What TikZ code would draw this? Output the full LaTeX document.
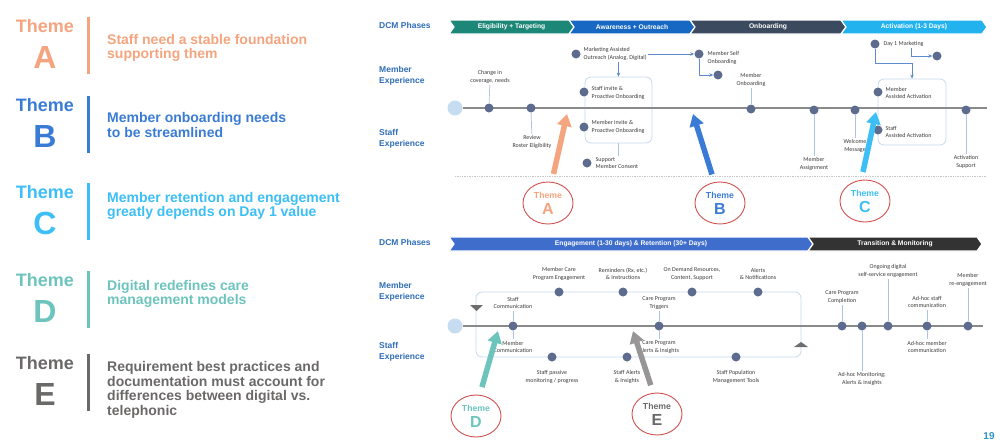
\documentclass[tikz,border=0pt]{standalone}
\usepackage{fontspec}
\setmainfont{Liberation Sans}
\newfontfamily\lblfam{Carlito}
\usetikzlibrary{arrows.meta,shapes.geometric}

\definecolor{thA}{HTML}{F4A47E}
\definecolor{thB}{HTML}{3A7BD5}
\definecolor{thC}{HTML}{3CBEF6}
\definecolor{thD}{HTML}{6CC4BD}
\definecolor{thE}{HTML}{6B6868}
\definecolor{ringc}{HTML}{D0504C}
\definecolor{dotc}{HTML}{5D6B8E}
\definecolor{linec}{HTML}{8A8A8A}
\definecolor{stemc}{HTML}{A9C4E4}
\definecolor{flowc}{HTML}{5F8BCB}
\definecolor{boxc}{HTML}{C3D8EF}
\definecolor{startc}{HTML}{C6DDF1}
\definecolor{labc}{HTML}{3A3A3A}
\definecolor{headc}{HTML}{2F6DB8}
\definecolor{phA}{HTML}{1C8677}
\definecolor{phB}{HTML}{1768C2}
\definecolor{phC}{HTML}{3C4A5F}
\definecolor{phD}{HTML}{22B2EE}
\definecolor{phE}{HTML}{3E6DCB}
\definecolor{phF}{HTML}{333333}
\definecolor{trimc}{HTML}{6E6E6E}
\definecolor{pagec}{HTML}{2B93C6}

\newcommand\lblfont{\lblfam\fontsize{6}{7.5}\selectfont}
% chevron: x start, x end, y top, colour, text
\newcommand\chev[5]{%
  \filldraw[fill=#4, draw=white, line width=1.2pt] (#1,#3) -- (#2,#3) -- (#2+5,#3+7) -- (#2,#3+14) -- (#1,#3+14) -- (#1+5,#3+7) -- cycle;
  \node[phase] at ({(#1+#2)/2+2.5},#3+7) {#5};}
% text of a theme ring
\newcommand\ringtext[1]{\fontsize{8.7}{9}\selectfont Theme\\[4pt]\fontsize{16}{16}\selectfont #1}

\begin{document}
\begin{tikzpicture}[x=1pt,y=-1pt,
  dot/.style={circle, fill=dotc, inner sep=0, minimum size=9pt},
  startdot/.style={circle, fill=startc, inner sep=0, minimum size=15pt},
  lbl/.style={font=\lblfont, text=labc, align=center, inner sep=1.5pt},
  lbll/.style={lbl, align=left, anchor=west},
  stem/.style={draw=stemc, line width=0.7pt},
  flow/.style={draw=flowc, line width=0.7pt, -{Stealth[length=4pt,width=3.5pt]}},
  grp/.style={draw=boxc, line width=0.8pt, rounded corners=6pt, inner sep=0},
  timeline/.style={draw=linec, line width=2pt},
  ring/.style={ellipse, draw=ringc, line width=0.9pt, minimum width=50pt, minimum height=42pt, inner sep=0, align=center, font=\bfseries},
  themearrow/.style={line width=5.5pt, -{Triangle[width=14pt,length=12pt]}, shorten <=8pt},
  head/.style={font=\bfseries\fontsize{8.5}{11.5}\selectfont, text=headc, align=left, anchor=west, inner sep=0},
  phase/.style={font=\bfseries\fontsize{6.7}{7}\selectfont, text=white, inner sep=0},
  thword/.style={font=\bfseries\fontsize{18}{20}\selectfont, inner sep=0},
  thletter/.style={font=\bfseries\fontsize{32}{34}\selectfont, inner sep=0},
  thtext/.style={font=\bfseries\fontsize{14}{14.5}\selectfont, align=left, anchor=west, inner sep=0}]
\useasboundingbox (0,0) rectangle (1000,445);

% themes on the left
\foreach \l/\y/\dy/\txt in {
  A/26/22/{Staff need a stable foundation\\supporting them},
  B/105/20/{Member onboarding needs\\to be streamlined},
  C/192/14/{Member retention and engagement\\greatly depends on Day 1 value},
  D/280/14/{Digital redefines care\\management models},
  E/363/27/{Requirement best practices and\\documentation must account for\\differences between digital vs.\\telephonic}}
{
  \node[thword, text=th\l] (tw\l) at (45,\y) {Theme};
  \node[thletter, text=th\l] (tl\l) at (45,\y+31) {\l};
  \draw[line width=3pt, th\l] (88,\y-9) -- (88,\y+48);
  \node[thtext, text=th\l] (tt\l) at (107,\y+\dy) {\txt};
}

% upper journey
\node[head] (ph1) at (379,25) {DCM Phases};
\node[head] (me1) at (379,76) {Member\\Experience};
\node[head] (se1) at (379,139) {Staff\\Experience};
\chev{449}{569}{20}{phA}{Eligibility + Targeting}
\chev{569}{690}{20}{phB}{Awareness + Outreach}
\chev{690}{841}{20}{phC}{Onboarding}
\chev{841}{982}{20}{phD}{Activation (1-3 Days)}

\node[grp, minimum width=67pt, minimum height=66pt] (box1) at (618.5,110) {};
\node[grp, minimum width=68pt, minimum height=66pt] (box2) at (912,112) {};

\node[startdot] (s1) at (455,108) {};
\coordinate (e1) at (987,108);
\draw[timeline] (s1) -- (e1);

\node[dot] (cov) at (489,108) {};
\node[lbl] (covl) at (490,77) {Change in\\coverage, needs};
\draw[stem] (covl) -- (cov);
\node[dot] (ros) at (531,108) {};
\node[lbl] (rosl) at (532,142) {Review\\Roster Eligibility};
\draw[stem] (ros) -- (rosl);

\node[dot] (mkt) at (576,54) {};
\node[lbll] (mktl) at (582,54) {Marketing Assisted\\Outreach (Analog, Digital)};
\draw[flow] (mktl.south -| box1.north) -- (box1.north);
\node[dot] (si) at (584,92) {};
\node[lbll] (sil) at (590,93) {Staff invite \&\\Proactive Onboarding};
\node[dot] (mi) at (584,127) {};
\node[lbll] (mil) at (590,127) {Member invite \&\\Proactive Onboarding};
\node[dot] (con) at (587,163) {};
\node[lbll] (conl) at (594,163) {Support\\Member Consent};
\draw[stem] (box1.south) -- (box1.south |- conl.north);

\node[dot] (mso) at (699,54) {};
\node[lbll] (msol) at (706,58) {Member Self\\Onboarding};
\draw[flow] (mktl.east |- mso) -- (mso);
\node[dot] (mso2) at (718,75) {};
\draw[flow] (mso.south) |- (mso2.west);
\node[dot] (mo) at (751,109) {};
\node[lbl] (mol) at (751,80) {Member\\Onboarding};
\draw[stem] (mol) -- (mo);
\node[dot] (asg) at (814,110) {};
\node[lbl] (asgl) at (814,164) {Member\\Assignment};
\draw[stem] (asg) -- (asgl);
\node[dot] (wel) at (855,110) {};
\node[lbl] (well) at (855,146) {Welcome\\Message};
\draw[stem] (wel) -- (well);

\node[dot] (d1) at (875,44) {};
\node[lbll] (d1l) at (882,44) {Day 1 Marketing};
\coordinate (d1k) at (912,63);
\draw[flow] (d1.south) |- (d1k) -- (box2.north);
\node[dot] (d1b) at (937,56) {};
\draw[flow] ([xshift=8pt]d1l.south) |- (d1b.west);
\node[dot] (maa) at (878,92) {};
\node[lbll] (maal) at (884,93) {Member\\Assisted Activation};
\node[dot] (saa) at (878,130) {};
\node[lbll] (saal) at (884,132) {Staff\\Assisted Activation};
\node[dot] (act) at (966,110) {};
\node[lbl] (actl) at (966,162) {Activation\\Support};
\draw[stem] (act) -- (actl);

\draw[densely dotted, gray!45, line width=0.7pt] (455,176) -- (987,176);

% lower journey
\node[head] (ph2) at (379,242) {DCM Phases};
\node[head] (me2) at (379,292) {Member\\Experience};
\node[head] (se2) at (379,352) {Staff\\Experience};
\chev{449}{808}{237}{phE}{Engagement (1-30 days) \& Retention (30+ Days)}
\chev{808}{977}{237}{phF}{Transition \& Monitoring}

\node[grp, minimum width=325pt, minimum height=65pt] (loop) at (638.5,324.5) {};
\fill[trimc] (470,305) -- (483,305) -- (476.5,311) -- cycle;
\fill[trimc] (794,347) -- (808,347) -- (801,342) -- cycle;

\node[startdot] (s2) at (455,326) {};
\coordinate (e2) at (983,326);
\draw[timeline] (s2) -- (e2);

\node[dot] (mce) at (559,292) {};
\node[lbl] (mcel) at (559,274) {Member Care\\Program Engagement};
\node[dot] (rem) at (623,292) {};
\node[lbl] (reml) at (623,274) {Reminders (Rx, etc.)\\\& Instructions};
\node[dot] (odr) at (692,292) {};
\node[lbl] (odrl) at (692,274) {On Demand Resources,\\Content, Support};
\node[dot] (aln) at (758,292) {};
\node[lbl] (alnl) at (758,274) {Alerts\\\& Notifications};

\node[dot] (sc) at (513,326) {};
\node[lbl] (scl) at (513,303) {Staff\\Communication};
\node[lbl] (mcl) at (513,347) {Member\\Communication};
\draw[stem] (scl) -- (sc) -- (mcl);
\node[dot] (cpt) at (659,326) {};
\node[lbl] (cptl) at (659,303) {Care Program\\Triggers};
\node[lbl] (cpal) at (659,347) {Care Program\\Alerts \& Insights};
\draw[stem] (cptl) -- (cpt) -- (cpal);

\node[dot] (spm) at (552,357) {};
\node[lbl] (spml) at (552,377) {Staff passive\\monitoring / progress};
\node[dot] (sai) at (627,357) {};
\node[lbl] (sail) at (627,377) {Staff Alerts\\\& Insights};
\node[dot] (spt) at (736,357) {};
\node[lbl] (sptl) at (736,377) {Staff Population\\Management Tools};

\node[dot] (cpc) at (842,326) {};
\node[lbl] (cpcl) at (842,297) {Care Program\\Completion};
\draw[stem] (cpcl) -- (cpc);
\node[dot] (adm) at (862,326) {};
\node[lbl] (adml) at (862,379) {Ad-hoc Monitoring;\\Alerts \& insights};
\draw[stem] (adm) -- (adml);
\node[dot] (ong) at (888,326) {};
\node[lbl] (ongl) at (888,271) {Ongoing digital\\self-service engagement};
\draw[stem] (ongl) -- (ong);
\node[dot] (ahs) at (927,326) {};
\node[lbl] (ahsl) at (927,302) {Ad-hoc staff\\communication};
\node[lbl] (ahml) at (927,347) {Ad-hoc member\\communication};
\draw[stem] (ahsl) -- (ahs) -- (ahml);
\node[dot] (mre) at (968,326) {};
\node[lbl] (mrel) at (968,280) {Member\\re-engagement};
\draw[stem] (mrel) -- (mre);

% theme callouts
\node[ring, text=thA] (ringA) at (548,203) {\ringtext{A}};
\node[ring, text=thB] (ringB) at (720,203) {\ringtext{B}};
\node[ring, text=thC] (ringC) at (865,201) {\ringtext{C}};
\node[ring, text=thD] (ringD) at (476,416) {\ringtext{D}};
\node[ring, text=thE] (ringE) at (657,414) {\ringtext{E}};
\coordinate (tipA) at (567,114);
\coordinate (tipB) at (693,114);
\coordinate (tipC) at (876,112);
\coordinate (tipD) at (498,331);
\coordinate (tipE) at (633,331);
\draw[themearrow, thA] (ringA.80) -- (tipA);
\draw[themearrow, thB] (ringB.105) -- (tipB);
\draw[themearrow, thC] (ringC.100) -- (tipC);
\draw[themearrow, thD] (ringD.80) -- (tipD);
\draw[themearrow, thE!70] (ringE.100) -- (tipE);

\node[font=\bfseries\fontsize{10}{12}\selectfont, text=pagec] (pg) at (989,436) {19};
\end{tikzpicture}
\end{document}
